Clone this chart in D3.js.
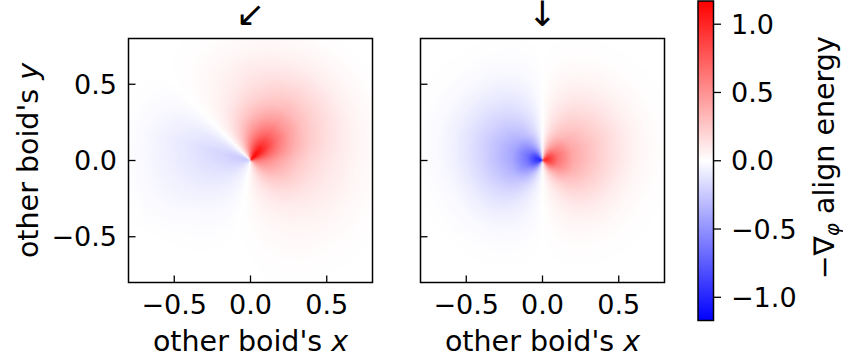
<!DOCTYPE html>
<html>
<head>
<meta charset="utf-8">
<script src="https://cdn.jsdelivr.net/npm/d3@7"></script>
<style>
  body { margin: 0; background: #fff; }
  text { font-family: "DejaVu Sans", sans-serif; fill: #000; }
</style>
</head>
<body>
<svg id="fig" width="843" height="362"></svg>
<script>
// radial rings (distance to the other boid) shared by both panels
const rings = [0.01, 0.05, 0.1, 0.2, 0.3, 0.4, 0.5, 0.6, 0.7, 0.8, 0.9, 1.0];

// heading shown above each panel
const headings = ["↙", "↓"];

// panel 1 (heading ↙): polar angle in degrees, counter-clockwise from +x
const leftAngles = [0, 20, 40, 55, 70, 90, 105, 120, 130, 135, 140, 150, 165, 180, 200, 225, 250, 270, 300, 330];
const leftValues = [
  [0.62, 0.61, 0.55, 0.40, 0.27, 0.18, 0.12, 0.08, 0.04, 0.02, 0.006, 0],
  [0.87, 0.85, 0.77, 0.56, 0.38, 0.25, 0.17, 0.11, 0.06, 0.027, 0.008, 0],
  [1.12, 1.10, 1.00, 0.70, 0.47, 0.31, 0.21, 0.14, 0.074, 0.034, 0.01, 0],
  [1.15, 1.12, 1.02, 0.72, 0.48, 0.32, 0.22, 0.14, 0.076, 0.035, 0.01, 0],
  [0.97, 0.94, 0.86, 0.62, 0.42, 0.27, 0.19, 0.12, 0.065, 0.03, 0.009, 0],
  [0.69, 0.67, 0.61, 0.44, 0.29, 0.19, 0.13, 0.09, 0.046, 0.021, 0.006, 0],
  [0.44, 0.43, 0.39, 0.28, 0.19, 0.12, 0.08, 0.056, 0.03, 0.013, 0.004, 0],
  [0.22, 0.21, 0.19, 0.14, 0.09, 0.06, 0.04, 0.028, 0.015, 0.007, 0.002, 0],
  [0.08, 0.076, 0.07, 0.05, 0.034, 0.022, 0.015, 0.01, 0.005, 0.002, 0, 0],
  [0, 0, 0, 0, 0, 0, 0, 0, 0, 0, 0, 0],
  [-0.07, -0.065, -0.06, -0.05, -0.041, -0.032, -0.024, -0.016, -0.008, -0.003, 0, 0],
  [-0.18, -0.17, -0.16, -0.13, -0.11, -0.083, -0.061, -0.04, -0.02, -0.007, 0, 0],
  [-0.26, -0.25, -0.23, -0.19, -0.16, -0.12, -0.09, -0.06, -0.03, -0.01, 0, 0],
  [-0.23, -0.22, -0.21, -0.17, -0.14, -0.11, -0.08, -0.053, -0.026, -0.009, 0, 0],
  [-0.18, -0.17, -0.16, -0.13, -0.11, -0.083, -0.061, -0.04, -0.02, -0.007, 0, 0],
  [-0.10, -0.10, -0.095, -0.08, -0.06, -0.04, -0.022, -0.01, -0.004, 0, 0, 0],
  [-0.04, -0.04, -0.036, -0.03, -0.02, -0.012, -0.006, -0.002, 0, 0, 0, 0],
  [0.04, 0.04, 0.036, 0.03, 0.02, 0.012, 0.006, 0.002, 0, 0, 0, 0],
  [0.22, 0.21, 0.19, 0.14, 0.094, 0.062, 0.042, 0.028, 0.015, 0.007, 0.002, 0],
  [0.44, 0.43, 0.39, 0.28, 0.19, 0.12, 0.084, 0.056, 0.03, 0.013, 0.004, 0]
];

// panel 2 (heading ↓)
const rightAngles = [0, 20, 40, 60, 75, 85, 90, 95, 105, 120, 140, 160, 180, 200, 220, 240, 255, 270, 285, 300, 320, 340];
const rightValues = [
  [1.00, 0.88, 0.64, 0.40, 0.29, 0.19, 0.113, 0.053, 0.02, 0.006, 0.001, 0],
  [1.02, 0.90, 0.66, 0.41, 0.30, 0.21, 0.13, 0.068, 0.028, 0.008, 0.002, 0],
  [0.92, 0.81, 0.59, 0.37, 0.27, 0.19, 0.12, 0.062, 0.025, 0.007, 0.002, 0],
  [0.68, 0.59, 0.43, 0.27, 0.20, 0.14, 0.088, 0.046, 0.018, 0.005, 0.001, 0],
  [0.40, 0.35, 0.26, 0.16, 0.12, 0.083, 0.052, 0.026, 0.011, 0.003, 0.001, 0],
  [0.15, 0.13, 0.10, 0.06, 0.045, 0.031, 0.019, 0.01, 0.004, 0.001, 0, 0],
  [0, 0, 0, 0, 0, 0, 0, 0, 0, 0, 0, 0],
  [-0.15, -0.13, -0.10, -0.06, -0.045, -0.031, -0.019, -0.01, -0.004, -0.001, 0, 0],
  [-0.40, -0.35, -0.26, -0.16, -0.12, -0.083, -0.052, -0.026, -0.011, -0.003, -0.001, 0],
  [-0.68, -0.59, -0.43, -0.27, -0.20, -0.14, -0.088, -0.046, -0.018, -0.005, -0.001, 0],
  [-0.92, -0.81, -0.59, -0.37, -0.27, -0.19, -0.12, -0.062, -0.025, -0.007, -0.002, 0],
  [-1.02, -0.90, -0.66, -0.41, -0.30, -0.21, -0.13, -0.068, -0.028, -0.008, -0.002, 0],
  [-1.00, -0.88, -0.64, -0.40, -0.29, -0.19, -0.113, -0.053, -0.02, -0.006, -0.001, 0],
  [-0.90, -0.79, -0.58, -0.36, -0.25, -0.165, -0.086, -0.035, -0.012, -0.003, 0, 0],
  [-0.68, -0.59, -0.43, -0.27, -0.19, -0.12, -0.065, -0.026, -0.009, -0.002, 0, 0],
  [-0.38, -0.33, -0.24, -0.15, -0.104, -0.067, -0.036, -0.014, -0.005, -0.001, 0, 0],
  [-0.18, -0.15, -0.11, -0.07, -0.048, -0.032, -0.017, -0.007, -0.002, 0, 0, 0],
  [0, 0, 0, 0, 0, 0, 0, 0, 0, 0, 0, 0],
  [0.18, 0.15, 0.11, 0.07, 0.048, 0.032, 0.017, 0.007, 0.002, 0, 0, 0],
  [0.38, 0.33, 0.24, 0.15, 0.104, 0.067, 0.036, 0.014, 0.005, 0.001, 0, 0],
  [0.68, 0.59, 0.43, 0.27, 0.19, 0.12, 0.065, 0.026, 0.009, 0.002, 0, 0],
  [0.90, 0.79, 0.58, 0.36, 0.25, 0.165, 0.086, 0.035, 0.012, 0.003, 0, 0]
];

const axisExtent = [-0.8, 0.8];
const xTicks = [-0.5, 0, 0.5];
const yTicks = [-0.5, 0, 0.5];
const cbarTicks = [-1, -0.5, 0, 0.5, 1];
const cbarLimit = 1.17;

const svg = d3.select("#fig");
const fmt = d3.format(".1f");
const fs = 27;      // tick labels
const lfs = 28.5;   // axis labels

const color = d3.scaleLinear()
  .domain([-cbarLimit, 0, cbarLimit])
  .range(["#0000ff", "#ffffff", "#ff0000"])
  .clamp(true);

// value at (x, y) from the polar table of one panel
function lookup(angles, values, xv, yv) {
  const r = Math.hypot(xv, yv);
  let th = Math.atan2(yv, xv) * 180 / Math.PI;
  if (th < 0) th += 360;
  const n = angles.length;
  const i = Math.max(0, d3.bisectRight(angles, th) - 1);
  const i1 = (i + 1) % n;
  const a0 = angles[i], a1 = i + 1 < n ? angles[i + 1] : angles[0] + 360;
  const ta = (th - a0) / (a1 - a0);
  const j = Math.max(0, Math.min(rings.length - 2, d3.bisectRight(rings, r) - 1));
  const tr = Math.max(0, Math.min(1, (r - rings[j]) / (rings[j + 1] - rings[j])));
  const along = row => row[j] * (1 - tr) + row[j + 1] * tr;
  return along(values[i]) * (1 - ta) + along(values[i1]) * ta;
}

const panels = [
  { left: 128.5, angles: leftAngles, values: leftValues, heading: headings[0], yLabels: true },
  { left: 420.5, angles: rightAngles, values: rightValues, heading: headings[1], yLabels: false }
];
const panelTop = 38.5, size = 244;

panels.forEach(p => {
  const x = d3.scaleLinear().domain(axisExtent).range([p.left, p.left + size]);
  const y = d3.scaleLinear().domain(axisExtent).range([panelTop + size, panelTop]);

  // heatmap
  const canvas = document.createElement("canvas");
  canvas.width = size; canvas.height = size;
  const ctx = canvas.getContext("2d");
  const img = ctx.createImageData(size, size);
  for (let py = 0; py < size; py++) {
    for (let px = 0; px < size; px++) {
      const v = lookup(p.angles, p.values, x.invert(p.left + px + 0.5), y.invert(panelTop + py + 0.5));
      const c = d3.rgb(color(v));
      const k = (py * size + px) * 4;
      img.data[k] = c.r; img.data[k + 1] = c.g; img.data[k + 2] = c.b; img.data[k + 3] = 255;
    }
  }
  ctx.putImageData(img, 0, 0);
  svg.append("image")
    .attr("x", p.left).attr("y", panelTop)
    .attr("width", size).attr("height", size)
    .attr("href", canvas.toDataURL());

  const g = svg.append("g");
  g.append("rect")
    .attr("x", p.left).attr("y", panelTop)
    .attr("width", size).attr("height", size)
    .attr("fill", "none").attr("stroke", "#000").attr("stroke-width", 1.5);

  // inward ticks
  g.selectAll(".xt").data(xTicks).enter().append("line")
    .attr("x1", d => x(d)).attr("x2", d => x(d))
    .attr("y1", panelTop + size).attr("y2", panelTop + size - 7)
    .attr("stroke", "#000").attr("stroke-width", 1.3);
  g.selectAll(".yt").data(yTicks).enter().append("line")
    .attr("x1", p.left).attr("x2", p.left + 7)
    .attr("y1", d => y(d)).attr("y2", d => y(d))
    .attr("stroke", "#000").attr("stroke-width", 1.3);

  g.selectAll(".xl").data(xTicks).enter().append("text")
    .attr("x", d => x(d)).attr("y", 314)
    .attr("text-anchor", "middle").attr("font-size", fs)
    .text(d => fmt(d));

  if (p.yLabels) {
    g.selectAll(".yl").data(yTicks).enter().append("text")
      .attr("x", 117).attr("y", d => y(d)).attr("dy", "0.36em")
      .attr("text-anchor", "end").attr("font-size", fs)
      .text(d => fmt(d));
    const yl = g.append("text")
      .attr("transform", `translate(38,${panelTop + size / 2}) rotate(-90)`)
      .attr("text-anchor", "middle").attr("font-size", lfs)
      .text("other boid's ");
    yl.append("tspan").attr("font-style", "italic").text("y");
  }

  const xl = g.append("text")
    .attr("x", p.left + size / 2).attr("y", 350.5)
    .attr("text-anchor", "middle").attr("font-size", lfs)
    .text("other boid's ");
  xl.append("tspan").attr("font-style", "italic").text("x");

  g.append("text")
    .attr("x", x(0)).attr("y", 26)
    .attr("text-anchor", "middle").attr("font-size", 35)
    .text(p.heading);
});

// colorbar
const cb = { x: 698, w: 15.5, y0: 1, y1: 320.5 };
const cy = d3.scaleLinear().domain([-cbarLimit, cbarLimit]).range([cb.y1, cb.y0]);
const grad = svg.append("defs").append("linearGradient")
  .attr("id", "cbgrad").attr("x1", 0).attr("x2", 0).attr("y1", 1).attr("y2", 0);
grad.selectAll("stop").data(color.domain()).enter().append("stop")
  .attr("offset", d => (d + cbarLimit) / (2 * cbarLimit))
  .attr("stop-color", d => color(d));
svg.append("rect")
  .attr("x", cb.x).attr("y", cb.y0)
  .attr("width", cb.w).attr("height", cb.y1 - cb.y0)
  .attr("fill", "url(#cbgrad)").attr("stroke", "#000").attr("stroke-width", 1.5);
svg.selectAll(".ct").data(cbarTicks).enter().append("line")
  .attr("x1", cb.x + cb.w).attr("x2", cb.x + cb.w + 7.5)
  .attr("y1", d => cy(d)).attr("y2", d => cy(d))
  .attr("stroke", "#000").attr("stroke-width", 1.3);
svg.selectAll(".cl").data(cbarTicks).enter().append("text")
  .attr("x", 731).attr("y", d => cy(d)).attr("dy", "0.36em")
  .attr("font-size", fs)
  .text(d => fmt(d));

const cl = svg.append("text")
  .attr("transform", `translate(834,${(cb.y0 + cb.y1) / 2 - 3}) rotate(-90)`)
  .attr("text-anchor", "middle").attr("font-size", lfs)
  .text("−∇");
cl.append("tspan").attr("font-style", "italic").attr("font-size", 20).attr("dy", 5).text("φ");
cl.append("tspan").attr("dy", -5).text(" align energy");
</script>
</body>
</html>
